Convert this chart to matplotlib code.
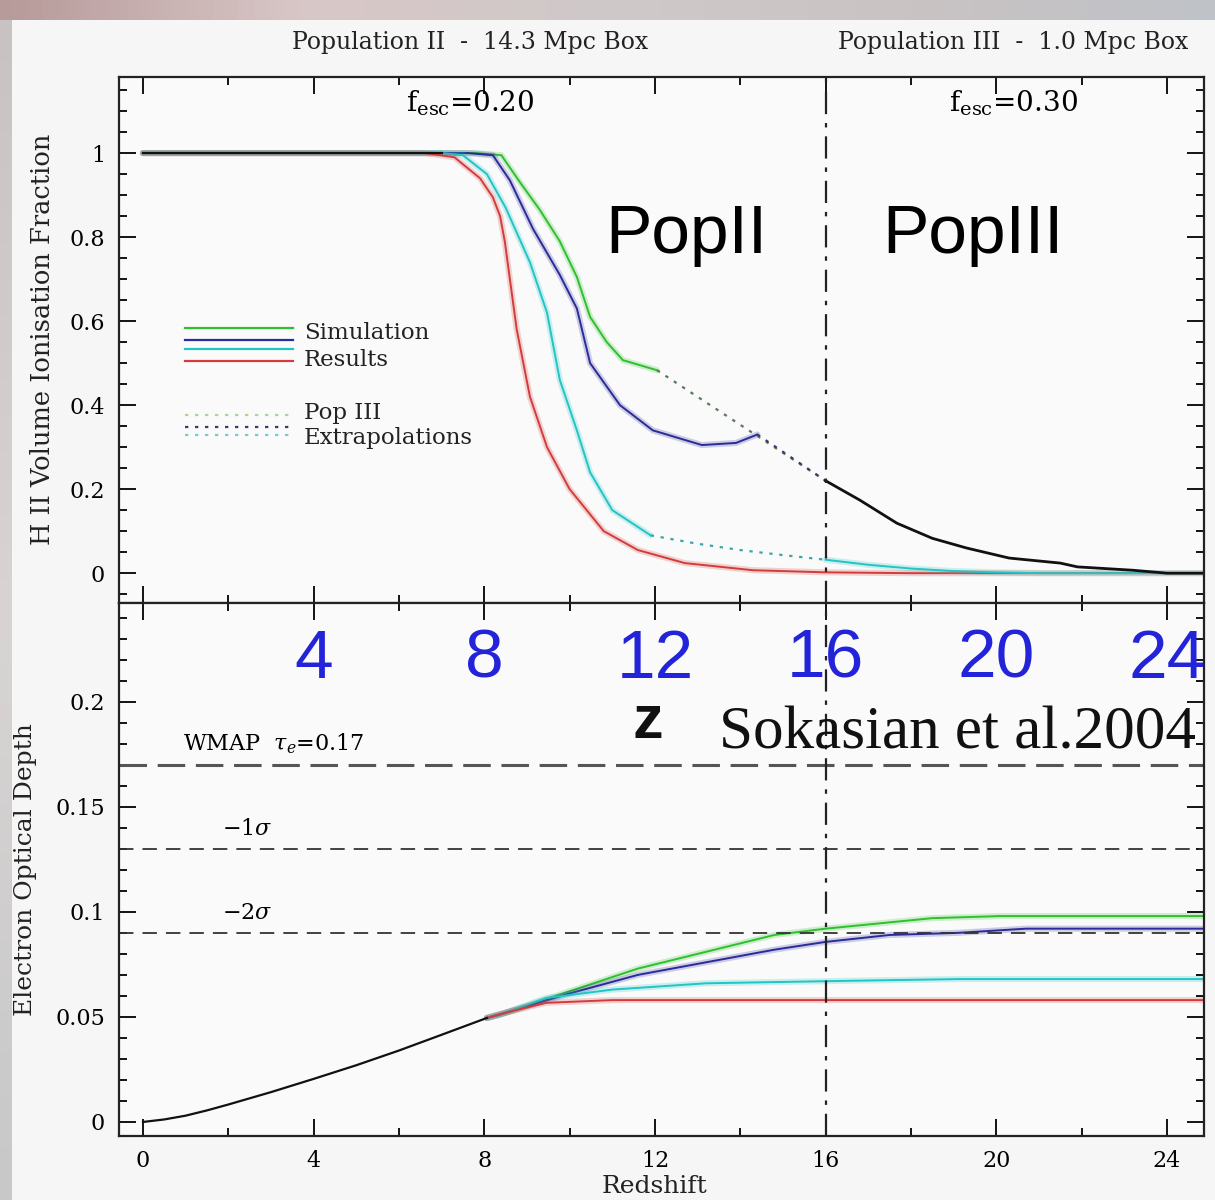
"""
Reionisation history: H II fraction and electron optical depth vs redshift
"""
import numpy as np
import matplotlib
matplotlib.use("Agg")
import matplotlib.pyplot as plt
from matplotlib.ticker import MultipleLocator, FuncFormatter
from matplotlib.colors import LinearSegmentedColormap

# --- ионизованная доля (верхняя панель) ---
z_common_x = [0.0, 7.0]
x_common = [1.0, 1.0]

z_green = [0.0, 7.8, 8.4, 8.84, 9.3, 9.77, 10.17, 10.48, 10.87, 11.25, 12.05]
x_green = [1.0, 1.0, 0.995, 0.93, 0.865, 0.79, 0.705, 0.61, 0.55, 0.507, 0.483]
z_green_ext = [12.05, 16.0]
x_green_ext = [0.483, 0.22]

z_blue = [0.0, 7.6, 8.2, 8.6, 9.14, 9.77, 10.17, 10.48, 11.18, 11.95, 13.1, 13.9, 14.4]
x_blue = [1.0, 1.0, 0.995, 0.935, 0.82, 0.71, 0.63, 0.50, 0.40, 0.34, 0.305, 0.31, 0.33]
z_blue_ext = [14.4, 16.0]
x_blue_ext = [0.33, 0.22]

z_cyan = [0.0, 7.0, 7.5, 8.06, 8.5, 9.07, 9.47, 9.77, 10.17, 10.48, 11.0, 11.9]
x_cyan = [1.0, 1.0, 0.995, 0.95, 0.87, 0.74, 0.62, 0.46, 0.34, 0.24, 0.15, 0.09]
z_cyan_ext = [11.9, 13.0, 14.0, 15.0, 16.0]
x_cyan_ext = [0.09, 0.07, 0.055, 0.043, 0.032]
z_cyan_p3 = [16.0, 17.0, 18.0, 19.0, 20.0, 21.0, 24.85]
x_cyan_p3 = [0.032, 0.02, 0.011, 0.005, 0.002, 0.0, 0.0]

z_red = [0.0, 6.6, 7.3, 7.9, 8.2, 8.37, 8.48, 8.76, 9.07, 9.47, 10.0, 10.8, 11.6,
         12.7, 14.3, 16.0, 18.0, 24.85]
x_red = [1.0, 1.0, 0.99, 0.94, 0.895, 0.85, 0.79, 0.58, 0.42, 0.30, 0.20, 0.10, 0.055,
         0.024, 0.007, 0.002, 0.0, 0.0]

# симуляция Pop III (бокс 1 Мпк)
z_pop3 = [16.0, 16.8, 17.67, 18.5, 19.3, 20.3, 21.5, 21.9, 23.2, 24.0, 24.85]
x_pop3 = [0.22, 0.174, 0.119, 0.083, 0.06, 0.036, 0.024, 0.015, 0.007, 0.0, 0.0]

# --- оптическая толщина (нижняя панель) ---
z_tau_common = [0.0, 0.5, 1.0, 1.5, 2.0, 3.0, 4.0, 5.0, 6.0, 7.0, 8.06]
tau_common = [0.0, 0.0012, 0.003, 0.0055, 0.0083, 0.0142, 0.0205, 0.027, 0.034, 0.0415, 0.0495]

z_tau_green = [8.06, 8.37, 9.97, 11.6, 13.2, 14.8, 16.0, 18.5, 20.1, 24.85]
tau_green = [0.0495, 0.051, 0.062, 0.073, 0.081, 0.089, 0.092, 0.097, 0.098, 0.098]
z_tau_blue = [8.06, 8.5, 9.97, 11.6, 13.2, 14.8, 16.0, 17.5, 19.1, 20.7, 24.85]
tau_blue = [0.0495, 0.052, 0.061, 0.070, 0.076, 0.082, 0.0857, 0.089, 0.090, 0.092, 0.092]
z_tau_cyan = [8.06, 8.5, 9.45, 11.0, 13.2, 16.0, 19.1, 24.85]
tau_cyan = [0.0495, 0.052, 0.059, 0.063, 0.066, 0.067, 0.068, 0.068]
z_tau_red = [8.06, 8.5, 9.45, 11.0, 12.5, 24.85]
tau_red = [0.0495, 0.052, 0.0567, 0.058, 0.058, 0.058]

tau_wmap = 0.17
tau_sigma = [0.13, 0.09]
sigma_labels = [r'$-1\sigma$', r'$-2\sigma$']
z_transition = 16.0
big_z = [4, 8, 12, 16, 20, 24]

GREEN, BLUE, CYAN, RED = '#2fbf2f', '#2b2b99', '#22c4c4', '#d23c3c'
SERIF = 'DejaVu Serif'
plt.rcParams['mathtext.fontset'] = 'dejavuserif'


def curve(ax, z, v, color, ls='-', lw=1.4):
    """линия с размытым ореолом того же цвета"""
    ax.plot(z, v, color=color, lw=lw + 3, alpha=0.22, ls=ls, solid_capstyle='round')
    ax.plot(z, v, color=color, lw=lw, ls=ls)


fig = plt.figure(figsize=(12.15, 12.0), dpi=100, facecolor='#f6f6f6')

# размытая цветная полоска сверху и слева
strip = LinearSegmentedColormap.from_list('strip', ['#b79a9a', '#d9c7c7', '#cfc9c9', '#c9c3c3', '#bfc2c8'])
ax_top = fig.add_axes([0, 1 - 20 / 1200, 1, 20 / 1200])
ax_top.imshow(np.linspace(0, 1, 200)[None, :], aspect='auto', cmap=strip)
ax_top.axis('off')
ax_left = fig.add_axes([0, 0, 12 / 1215, 1 - 20 / 1200])
ax_left.imshow(np.linspace(0, 1, 200)[:, None], aspect='auto',
               cmap=LinearSegmentedColormap.from_list('l', ['#c8c2c2', '#d8d4d4', '#c8c8c8']))
ax_left.axis('off')

ax1 = fig.add_axes([0.098, 0.4975, 0.893, 0.4383], facecolor='#fafafa')
ax2 = fig.add_axes([0.098, 0.0533, 0.893, 0.4442], facecolor='#fafafa')

# верхняя панель
curve(ax1, z_green, x_green, GREEN)
curve(ax1, z_blue, x_blue, BLUE)
curve(ax1, z_cyan, x_cyan, CYAN)
curve(ax1, z_red, x_red, RED)
ax1.plot(z_green_ext, x_green_ext, color='#5a7a5a', lw=1.6, ls=(0, (1.5, 3)))
ax1.plot(z_blue_ext, x_blue_ext, color='#3a3a70', lw=1.6, ls=(0, (1.5, 3)))
ax1.plot(z_cyan_ext, x_cyan_ext, color='#3aa8a8', lw=1.6, ls=(0, (1.5, 3)))
curve(ax1, z_cyan_p3, x_cyan_p3, CYAN)
ax1.plot(z_common_x, x_common, color='#111111', lw=1.6)
ax1.plot(z_pop3, x_pop3, color='#111111', lw=2.0)

# легенда
lx = [0.061, 0.160]
for y, c in zip([0.523, 0.500, 0.483, 0.460], [GREEN, BLUE, CYAN, RED]):
    ax1.plot(lx, [y, y], color=c, lw=1.6, transform=ax1.transAxes)
for y, c in zip([0.357, 0.335, 0.319], ['#a8d890', '#3a3a70', '#70d0d0']):
    ax1.plot(lx, [y, y], color=c, lw=1.6, ls=(0, (1.5, 3)), transform=ax1.transAxes)
for y, s in [(0.513, 'Simulation'), (0.462, 'Results'), (0.361, 'Pop III'), (0.314, 'Extrapolations')]:
    ax1.text(0.1705, y, s, transform=ax1.transAxes, ha='left', va='center',
             fontsize=16.5, family=SERIF, color='#222222')

ax1.text(7.66, 1.119, r'f$_{\rm esc}$=0.20', ha='center', va='center', fontsize=20, family=SERIF)
ax1.text(20.4, 1.119, r'f$_{\rm esc}$=0.30', ha='center', va='center', fontsize=20, family=SERIF)
ax1.text(12.73, 0.805, 'PopII', ha='center', va='center', fontsize=50, family='Liberation Sans')
ax1.text(19.45, 0.805, 'PopIII', ha='center', va='center', fontsize=50, family='Liberation Sans')

# нижняя панель
curve(ax2, z_tau_green, tau_green, GREEN)
curve(ax2, z_tau_blue, tau_blue, BLUE)
curve(ax2, z_tau_cyan, tau_cyan, CYAN)
curve(ax2, z_tau_red, tau_red, RED)
ax2.plot(z_tau_common, tau_common, color='#111111', lw=1.6)

ax2.axhline(tau_wmap, color='#555555', lw=2.2, ls=(0, (9, 3.5)))
for t in tau_sigma:
    ax2.axhline(t, color='#333333', lw=1.3, ls=(0, (8, 5)))
ax2.text(0.94, tau_wmap + 0.004, r'WMAP  $\tau_e$=0.17', ha='left', va='bottom',
         fontsize=16, family=SERIF)
for t, s in zip(tau_sigma, sigma_labels):
    ax2.text(1.85, t + 0.004, s, ha='left', va='bottom', fontsize=16, family=SERIF)

for z in big_z:
    ax2.text(z, 0.22, str(z), ha='center', va='center', fontsize=50,
             family='Liberation Sans', color='#2323d9', clip_on=False)
ax2.text(11.83, 0.19, 'z', ha='center', va='center', fontsize=44, fontweight='heavy',
         family='Liberation Sans', color='#111111')
ax2.text(19.1, 0.185, 'Sokasian et al.2004', ha='center', va='center', fontsize=44,
         family='Liberation Serif', color='#111111')

# граница Pop II / Pop III
for ax in (ax1, ax2):
    ax.axvline(z_transition, color='#222222', lw=1.6, ls=(0, (10, 4, 2, 4)))

# оси
ax1.set_xlim(-0.56, 24.87)
ax2.set_xlim(-0.56, 24.87)
ax1.set_ylim(-0.071, 1.181)
ax2.set_ylim(-0.0067, 0.247)

fmt = FuncFormatter(lambda v, p: f'{v:g}')
for ax, ymaj, ymin in [(ax1, 0.2, 0.05), (ax2, 0.05, 0.01)]:
    ax.xaxis.set_major_locator(MultipleLocator(4))
    ax.xaxis.set_minor_locator(MultipleLocator(2))
    ax.yaxis.set_major_locator(MultipleLocator(ymaj))
    ax.yaxis.set_minor_locator(MultipleLocator(ymin))
    ax.yaxis.set_major_formatter(fmt)
    ax.tick_params(which='both', direction='in', top=True, right=True, width=1.3)
    ax.tick_params(which='major', length=12, labelsize=16, pad=10)
    ax.tick_params(which='minor', length=6)
    for lab in ax.get_xticklabels() + ax.get_yticklabels():
        lab.set_family(SERIF)
    for sp in ax.spines.values():
        sp.set_linewidth(1.6)
        sp.set_color('#222222')

ax1.set_yticks([0, 0.2, 0.4, 0.6, 0.8, 1.0])
ax1.tick_params(labelbottom=False)
ax2.set_xticks([0, 4, 8, 12, 16, 20, 24])

fig.text(0.387, 0.965, 'Population II  -  14.3 Mpc Box', ha='center', va='center',
         fontsize=17, family=SERIF, color='#222222')
fig.text(0.834, 0.965, 'Population III  -  1.0 Mpc Box', ha='center', va='center',
         fontsize=17, family=SERIF, color='#222222')
fig.text(0.035, 0.717, 'H II Volume Ionisation Fraction', rotation=90, ha='center',
         va='center', fontsize=18.5, family=SERIF, color='#222222')
fig.text(0.0206, 0.275, 'Electron Optical Depth', rotation=90, ha='center',
         va='center', fontsize=18, family=SERIF, color='#222222')
fig.text(0.539, 0.011, 'Redshift', ha='center', va='center', fontsize=18,
         family=SERIF, color='#222222')

fig.savefig('out.png', dpi=100, facecolor=fig.get_facecolor())
